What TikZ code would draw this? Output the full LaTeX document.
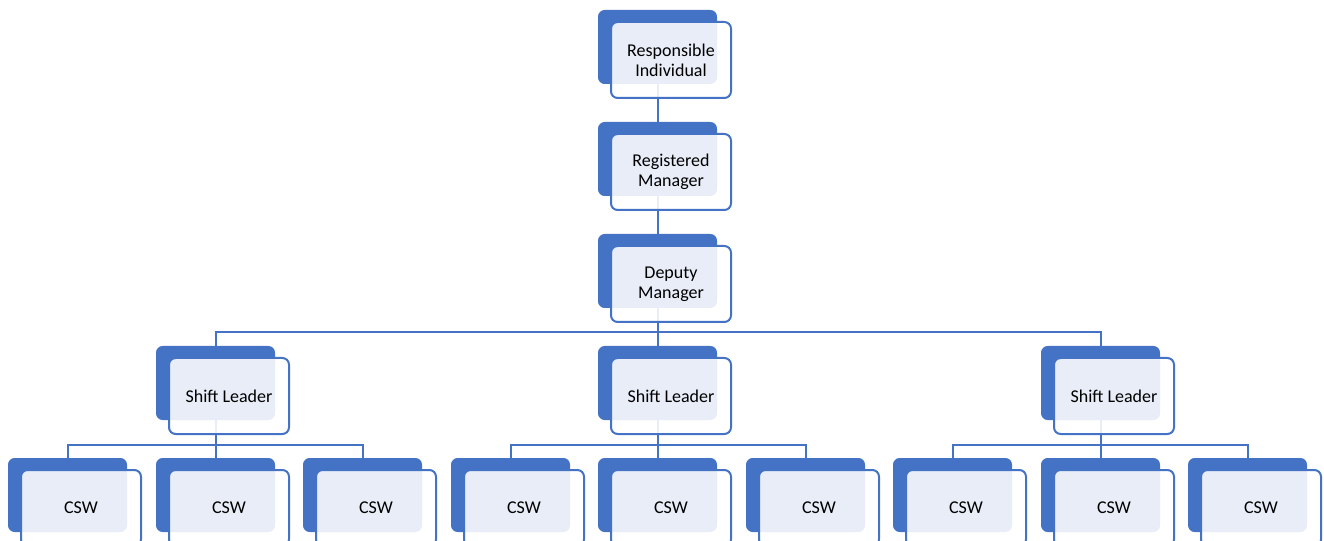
\documentclass[tikz,border=0pt]{standalone}
\usepackage{fontspec}
\setmainfont{Carlito}
\usetikzlibrary{backgrounds}
\definecolor{accent}{HTML}{4472C4}
% one unit of the chart: a solid back plate and a translucent card on top
\newcommand\orgunit[4]{%
  \node[backbox] (#1-b) at (#2,#3) {};
  \node[frontbox] (#1) at ([shift={(13,12)}]#1-b.north west) {#4};
}
\begin{document}
\begin{tikzpicture}[x=0.75pt,y=-0.75pt,
  backbox/.style={fill=accent, draw=none, rounded corners=5pt,
    minimum width=89.25pt, minimum height=55.5pt,
    inner sep=0pt, outer sep=0pt, anchor=north west},
  frontbox/.style={draw=accent, line width=1.5pt, fill=white,
    fill opacity=0.88, text opacity=1, rounded corners=5pt,
    minimum width=90pt, minimum height=57pt, inner sep=0pt, outer sep=0pt,
    anchor=north west, align=center, text=black,
    font=\fontsize{13.5}{15}\selectfont},
  link/.style={draw=accent, line width=1.5pt}]
\useasboundingbox (0,0) rectangle (1324,541);
\clip (0,0) rectangle (1324,541);

% management chain
\orgunit{ri}{598}{10}{Responsible\\Individual}
\orgunit{rm}{598}{122}{Registered\\Manager}
\orgunit{dm}{598}{234}{Deputy\\Manager}

% shift leaders
\orgunit{sla}{156}{346}{Shift Leader}
\orgunit{slb}{598}{346}{Shift Leader}
\orgunit{slc}{1041}{346}{Shift Leader}

% care support workers
\orgunit{ca1}{8}{458}{CSW}
\orgunit{ca2}{156}{458}{CSW}
\orgunit{ca3}{303}{458}{CSW}
\orgunit{cb1}{451}{458}{CSW}
\orgunit{cb2}{598}{458}{CSW}
\orgunit{cb3}{746}{458}{CSW}
\orgunit{cc1}{893}{458}{CSW}
\orgunit{cc2}{1041}{458}{CSW}
\orgunit{cc3}{1188}{458}{CSW}

\coordinate (busA) at (0,332);
\coordinate (busB) at (0,445);

\begin{pgfonlayer}{background}
  \draw[link] (ri-b.south) -- (rm-b.north);
  \draw[link] (rm-b.south) -- (dm-b.north);
  % deputy to shift leaders
  \draw[link] (dm-b.south) -- (dm-b.south |- busA);
  \draw[link] (sla-b.north) -- (sla-b.north |- busA) -- (slc-b.north |- busA) -- (slc-b.north);
  \draw[link] (slb-b.north) -- (slb-b.north |- busA);
  % shift leaders to their teams
  \foreach \g/\s in {a/sla, b/slb, c/slc} {
    \draw[link] (\s-b.south) -- (\s-b.south |- busB);
    \draw[link] (c\g1-b.north) -- (c\g1-b.north |- busB) -- (c\g3-b.north |- busB) -- (c\g3-b.north);
    \draw[link] (c\g2-b.north) -- (c\g2-b.north |- busB);
  }
\end{pgfonlayer}
\end{tikzpicture}
\end{document}
